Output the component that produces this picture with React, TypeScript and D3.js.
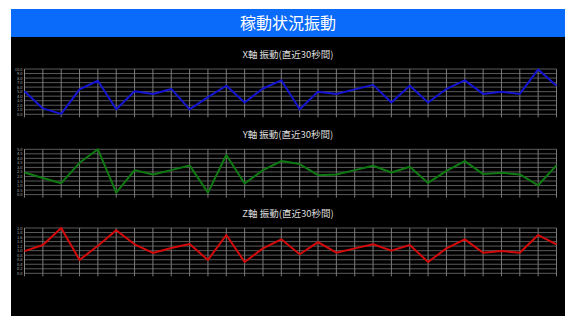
import { useEffect, useRef } from 'react'
import * as d3 from 'd3'

const TITLE = '稼動状況振動'
const CHART_TITLES = ['X軸 振動(直近30秒間)', 'Y軸 振動(直近30秒間)', 'Z軸 振動(直近30秒間)']
const SECONDS = d3.range(1, 31)

const xValues = [5.1, 1.3, 0.1, 5.5, 7.4, 1.1, 5.1, 4.5, 5.6, 1.1, 3.8, 6.3, 2.6, 5.7, 7.5, 1.1, 5.0, 4.5, 5.5, 6.5, 2.6, 6.3, 2.6, 5.6, 7.5, 4.5, 5.0, 4.5, 9.9, 6.3]
const yValues = [2.44, 1.84, 1.26, 3.51, 5.0, 0.22, 2.7, 2.22, 2.7, 3.22, 0.22, 4.37, 1.22, 2.7, 3.7, 3.37, 2.14, 2.22, 2.7, 3.18, 2.44, 3.07, 1.29, 2.62, 3.7, 2.26, 2.4, 2.22, 1.03, 3.22]
const zValues = [0.98, 1.25, 2.0, 0.59, 1.22, 1.9, 1.28, 0.9, 1.12, 1.29, 0.59, 1.69, 0.5, 1.1, 1.5, 0.84, 1.38, 0.91, 1.1, 1.28, 1.0, 1.25, 0.5, 1.1, 1.5, 0.91, 0.98, 0.91, 1.69, 1.28]

const MAXES = [10, 5, 2]
const COLORS = ['#1414d2', '#0f7a12', '#d40a0a']
const SERIES = [xValues, yValues, zValues]

const FONT = '"Noto Sans CJK JP", "Noto Sans", sans-serif'

export default function App() {
  const ref = useRef<SVGSVGElement>(null)

  useEffect(() => {
    const svg = d3.select(ref.current)
    svg.selectAll('*').remove()
    const W = 565
    const H = 316

    svg.append('rect').attr('width', W).attr('height', H).attr('fill', '#fff')
    svg.append('rect').attr('x', 11).attr('y', 9).attr('width', W - 11).attr('height', H - 9).attr('fill', '#000')
    svg.append('rect').attr('x', 11).attr('y', 9).attr('width', W - 11).attr('height', 28).attr('fill', '#0a6afa')
    svg.append('text')
      .attr('x', 288).attr('y', 29)
      .attr('text-anchor', 'middle')
      .attr('font-family', FONT).attr('font-size', 16)
      .attr('fill', '#fff')
      .text(TITLE)

    const x = d3.scaleLinear().domain([1, 30]).range([24.5, 556.5])
    const tops = [69, 149.3, 228]
    const plotH = 45.3

    SERIES.forEach((vals, i) => {
      const top = tops[i]
      const y = d3.scaleLinear().domain([0, MAXES[i]]).range([top + plotH, top])
      const g = svg.append('g')

      g.append('text')
        .attr('x', 288).attr('y', top - 11)
        .attr('text-anchor', 'middle')
        .attr('font-family', FONT).attr('font-size', 9.5)
        .attr('fill', '#ddd')
        .text(CHART_TITLES[i])

      const yt = y.ticks(10)
      g.selectAll('line.h').data(yt).join('line')
        .attr('x1', x(1)).attr('x2', x(30))
        .attr('y1', d => y(d)).attr('y2', d => y(d))
        .attr('stroke', '#5a5a5a').attr('stroke-width', 1)

      g.selectAll('line.v').data(SECONDS).join('line')
        .attr('x1', d => x(d)).attr('x2', d => x(d))
        .attr('y1', top).attr('y2', top + plotH + 3)
        .attr('stroke', '#7a7a7a').attr('stroke-width', 1)

      g.append('line')
        .attr('x1', x(1)).attr('x2', x(1))
        .attr('y1', top).attr('y2', top + plotH)
        .attr('stroke', '#888')

      g.selectAll('text.t').data(yt).join('text')
        .attr('x', x(1) - 2).attr('y', d => y(d) + 1.5)
        .attr('text-anchor', 'end')
        .attr('font-family', FONT).attr('font-size', 4)
        .attr('fill', '#aaa')
        .text(d => d3.format('.1f')(d))

      const line = d3.line<number>().x((_, j) => x(SECONDS[j])).y(d => y(d))
      g.append('path')
        .datum(vals)
        .attr('d', line)
        .attr('fill', 'none')
        .attr('stroke', COLORS[i])
        .attr('stroke-width', 2)
        .attr('stroke-linejoin', 'round')
    })
  }, [])

  return (
    <svg
      ref={ref}
      width={565}
      height={316}
      style={{ position: 'fixed', left: 0, top: 0, display: 'block' }}
    />
  )
}
